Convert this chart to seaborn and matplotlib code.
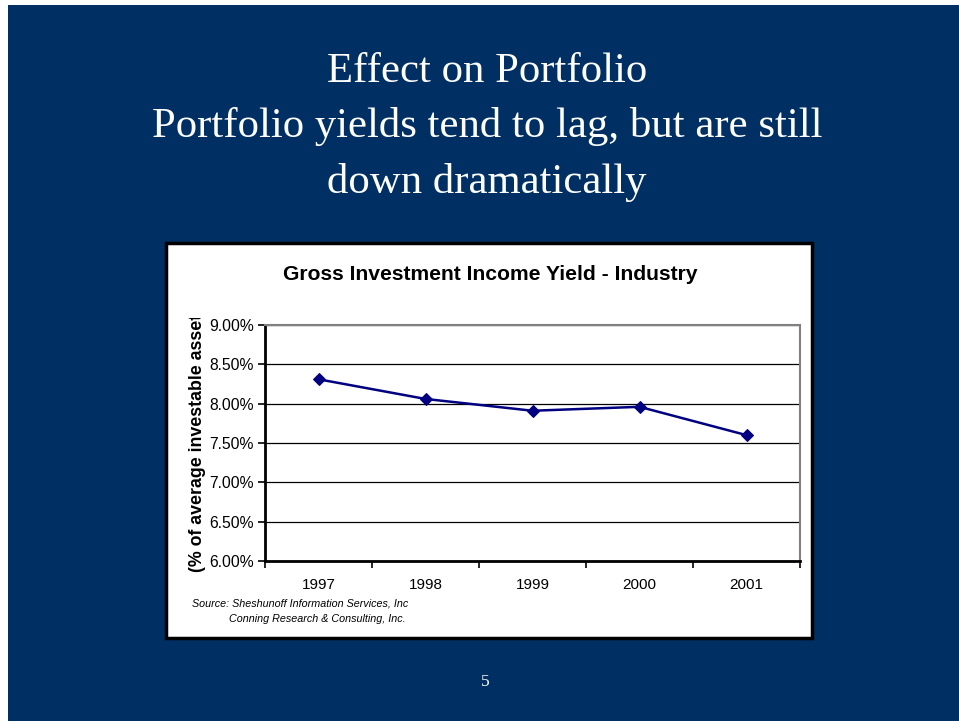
import matplotlib
matplotlib.use("Agg")
import matplotlib.pyplot as plt
from matplotlib.patches import Rectangle
from matplotlib.ticker import FixedLocator, PercentFormatter
import seaborn as sns
import pandas as pd

# Data
years = ["1997", "1998", "1999", "2000", "2001"]
yield_pct = [8.31, 8.06, 7.91, 7.96, 7.60]
y_ticks = [6.0, 6.5, 7.0, 7.5, 8.0, 8.5, 9.0]

df = pd.DataFrame({"pos": range(len(years)), "year": years, "yield": yield_pct})

sns.set_theme(style="white")
plt.rcParams["font.family"] = ["Liberation Sans", "DejaVu Sans"]

W, H = 959, 721
fig = plt.figure(figsize=(W / 100, H / 100), dpi=100)
fig.patch.set_facecolor("white")

def fx(px):
    return px / W

def fy(py):
    return 1 - py / H

# Slide background
slide_bg = "#003063"
fig.add_artist(Rectangle((fx(8), 0), 1 - fx(8), fy(5), transform=fig.transFigure,
                         facecolor=slide_bg, edgecolor="none", zorder=0))

# Slide title
title_lines = ["Effect on Portfolio",
               "Portfolio yields tend to lag, but are still",
               "down dramatically"]
for i, line in enumerate(title_lines):
    fig.text(fx(487), fy(72 + i * 55), line, ha="center", va="center", color="white",
             fontsize=30.8, family=["Liberation Serif", "DejaVu Serif"])

# Chart box
fig.add_artist(Rectangle((fx(166), fy(638)), fx(812 - 166), (638 - 243) / H,
                         transform=fig.transFigure, facecolor="white",
                         edgecolor="black", linewidth=2.5, zorder=1))

# Plot area
left, right, top, bottom = 265, 800, 325, 561
ax = fig.add_axes([fx(left), fy(bottom), fx(right - left), (bottom - top) / H])
ax.set_zorder(2)
ax.set_facecolor("white")

sns.lineplot(data=df, x="pos", y="yield", ax=ax, color="#000080", linewidth=1.8,
             marker="D", markersize=6.5, markeredgecolor="#000080",
             markerfacecolor="#000080")

ax.set_xlim(-0.5, len(years) - 0.5)
ax.set_ylim(6.0, 9.0)
ax.yaxis.set_major_locator(FixedLocator(y_ticks))
ax.yaxis.set_major_formatter(PercentFormatter(decimals=2))
ax.grid(axis="y", color="black", linewidth=0.9)
ax.set_axisbelow(True)

# Category axis: tick marks between categories, labels at centres
ax.set_xticks([i - 0.5 for i in range(len(years) + 1)])
ax.set_xticklabels([])
ax.set_xticks(range(len(years)), minor=True)
ax.set_xticklabels(years, minor=True)
ax.tick_params(axis="x", which="major", direction="out", length=5, width=1.2,
               color="black", bottom=True)
ax.tick_params(axis="x", which="minor", length=0, pad=12, labelsize=11, labelcolor="black")
ax.tick_params(axis="y", direction="out", length=5, width=1.2, color="black", left=True,
               labelsize=11.3, labelcolor="black", pad=3)

for side in ["left", "bottom"]:
    ax.spines[side].set_color("black")
    ax.spines[side].set_linewidth(2)
for side in ["top", "right"]:
    ax.spines[side].set_color("#808080")
    ax.spines[side].set_linewidth(1.5)
ax.set_xlabel("")
ax.set_ylabel("")

# Chart title
fig.text(fx(490), fy(274), "Gross Investment Income Yield - Industry", ha="center",
         va="center", fontsize=15.2, fontweight="bold", color="black", zorder=3)

# Y-axis title, cut off at the top of the chart area
clip = Rectangle((fx(180), fy(575)), fx(40), (575 - 318) / H, transform=fig.transFigure,
                 facecolor="none", edgecolor="none")
fig.add_artist(clip)
ylab = fig.text(fx(198), fy(572), "(% of average investable assets)", rotation=90,
                ha="center", va="bottom", fontsize=12.8, fontweight="bold",
                color="black", zorder=3, clip_on=True)
ylab.set_clip_path(clip)

# Source note
fig.text(fx(192), fy(604), "Source: Sheshunoff Information Services, Inc", ha="left",
         va="center", fontsize=7.75, style="italic", color="black", zorder=3)
fig.text(fx(229), fy(619), "Conning Research & Consulting, Inc.", ha="left",
         va="center", fontsize=7.75, style="italic", color="black", zorder=3)

# Page number
fig.text(fx(485), fy(682), "5", ha="center", va="center", color="white", fontsize=12.5,
         family=["Liberation Serif", "DejaVu Serif"])

fig.savefig("out.png", dpi=100, facecolor=fig.get_facecolor())
